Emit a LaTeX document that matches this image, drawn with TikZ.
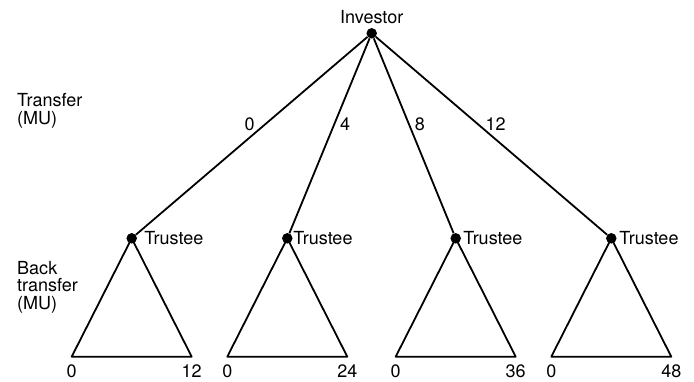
\documentclass[tikz,border=0pt]{standalone}
\usepackage{fontspec}
\setmainfont{TeX Gyre Heros}
\usepackage{tikz}
\usetikzlibrary{positioning}
\definecolor{trink}{RGB}{0, 0, 0}
\tikzset{
  dot/.style={circle, fill=trink, inner sep=0pt, minimum size=10.5pt},
  lbl/.style={inner sep=0pt, text=trink, font=\fontsize{18}{17.7}\selectfont},
  branch/.style={draw=trink, line width=1.8pt, line join=round}
}

\begin{document}
\begin{tikzpicture}[x=1pt, y=1pt]
  \useasboundingbox (0,0) rectangle (694,-381);

  % --- side captions ---
  \node[lbl, anchor=north west, align=left] (captr) at (17,-93.2)
    {Transfer\\(MU)};
  \node[lbl, anchor=north west, align=left] (capbk) at (17,-260.7)
    {Back\\transfer\\(MU)};

  % --- investor (root) ---
  \node[dot] (inv) at (371.7,-33.3) {};
  \node[lbl, above=4pt of inv] (invlbl) {Investor};

  % --- trustees ---
  \node[dot] (t1) at (131.7,-238.3) {};
  \node[dot] (t2) at (287.3,-238.3) {};
  \node[dot] (t3) at (455.7,-238.3) {};
  \node[dot] (t4) at (611.3,-238.3) {};
  \node[lbl, right=7pt of t1] (t1lbl) {Trustee};
  \node[lbl, right=0.5pt of t2] (t2lbl) {Trustee};
  \node[lbl, right=2pt of t3] (t3lbl) {Trustee};
  \node[lbl, right=2.5pt of t4] (t4lbl) {Trustee};

  % --- transfer branches ---
  \draw[branch] (inv) -- node[lbl, pos=.44, left=10pt] (tr0) {0} (t1);
  \draw[branch] (inv) -- node[lbl, pos=.44, right=5pt] (tr4) {4} (t2);
  \draw[branch] (inv) -- node[lbl, pos=.44, right=5pt] (tr8) {8} (t3);
  \draw[branch] (inv) -- node[lbl, pos=.44, right=7pt] (tr12) {12} (t4);

  % --- back transfer ranges (triangles) ---
  \coordinate (l1) at (71.7,-356.7);  \coordinate (r1) at (191.7,-356.7);
  \coordinate (l2) at (227.3,-356.7); \coordinate (r2) at (347.3,-356.7);
  \coordinate (l3) at (395.7,-356.7); \coordinate (r3) at (515.7,-356.7);
  \coordinate (l4) at (551.3,-356.7); \coordinate (r4) at (671.3,-356.7);
  \draw[branch] (t1.center) -- (l1) -- (r1) -- cycle;
  \draw[branch] (t2.center) -- (l2) -- (r2) -- cycle;
  \draw[branch] (t3.center) -- (l3) -- (r3) -- cycle;
  \draw[branch] (t4.center) -- (l4) -- (r4) -- cycle;

  % --- range end values ---
  \node[lbl, below=8pt of l1] (l1v) {0};
  \node[lbl, below=8pt of r1] (r1v) {12};
  \node[lbl, below=8pt of l2] (l2v) {0};
  \node[lbl, below=8pt of r2] (r2v) {24};
  \node[lbl, below=8pt of l3] (l3v) {0};
  \node[lbl, below=8pt of r3] (r3v) {36};
  \node[lbl, below=8pt of l4] (l4v) {0};
  \node[lbl, below=8pt of r4] (r4v) {48};

\end{tikzpicture}
\end{document}
